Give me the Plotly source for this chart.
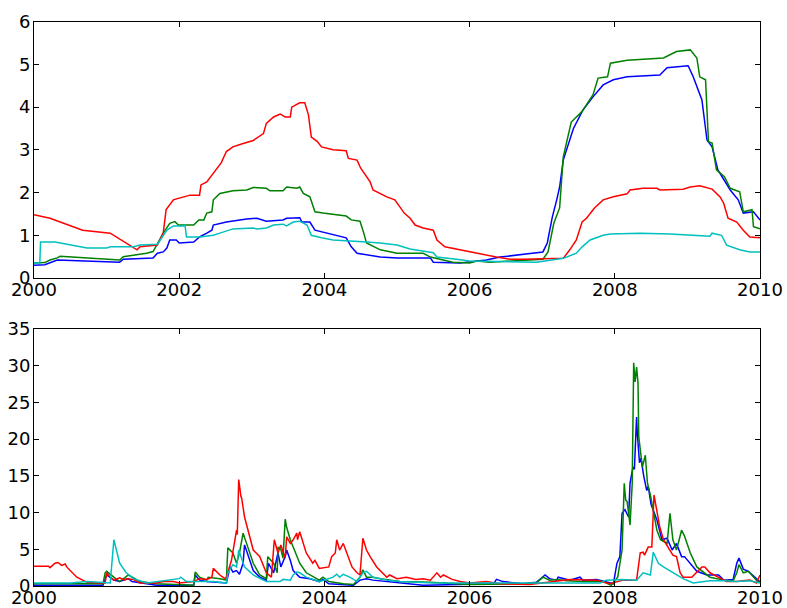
import plotly.graph_objects as go

# ---------------- top panel data (decimal years, values) ----------------
top_blue_t = [2000.0, 2000.15, 2000.32, 2000.67, 2001.18, 2001.23, 2001.64, 2001.7, 2001.78, 2001.83, 2001.87, 2001.96,
              2002.0, 2002.2, 2002.28, 2002.38, 2002.45, 2002.47, 2002.65, 2002.93, 2003.07, 2003.2, 2003.43, 2003.48,
              2003.66, 2003.69, 2003.8, 2003.87, 2003.96, 2004.3, 2004.37, 2004.45, 2004.77, 2005.0, 2005.46, 2005.5,
              2005.87, 2006.0, 2006.23, 2006.42, 2006.74, 2007.01, 2007.07, 2007.14, 2007.2, 2007.24, 2007.29, 2007.43,
              2007.56, 2007.7, 2007.84, 2007.98, 2008.17, 2008.44, 2008.62, 2008.72, 2008.85, 2009.01, 2009.08, 2009.2,
              2009.27, 2009.34, 2009.42, 2009.59, 2009.7, 2009.77, 2009.91, 2009.96, 2010.0]
top_blue_v = [0.30, 0.31, 0.42, 0.40, 0.37, 0.44, 0.47, 0.58, 0.61, 0.70, 0.89, 0.89,
              0.82, 0.84, 0.96, 1.05, 1.12, 1.24, 1.31, 1.38, 1.40, 1.33, 1.36, 1.40,
              1.41, 1.31, 1.31, 1.12, 1.08, 0.94, 0.73, 0.58, 0.49, 0.47, 0.47, 0.37,
              0.35, 0.38, 0.42, 0.49, 0.56, 0.61, 0.82, 1.43, 1.83, 2.13, 2.76, 3.50,
              3.93, 4.24, 4.52, 4.64, 4.71, 4.73, 4.75, 4.92, 4.94, 4.97, 4.71, 4.17,
              3.23, 3.07, 2.53, 2.06, 1.83, 1.52, 1.55, 1.43, 1.36]

top_green_t = [2000.0, 2000.15, 2000.22, 2000.32, 2000.36, 2000.68, 2001.05, 2001.18, 2001.23, 2001.42, 2001.55, 2001.64,
               2001.7, 2001.78, 2001.87, 2001.94, 2001.99, 2002.2, 2002.27, 2002.34, 2002.38, 2002.45, 2002.47, 2002.56,
               2002.74, 2002.93, 2003.02, 2003.2, 2003.25, 2003.43, 2003.48, 2003.62, 2003.66, 2003.71, 2003.8, 2003.87,
               2003.98, 2004.3, 2004.37, 2004.49, 2004.53, 2004.58, 2004.77, 2005.0, 2005.36, 2005.46, 2005.77, 2006.0,
               2006.1, 2006.28, 2007.01, 2007.08, 2007.16, 2007.24, 2007.29, 2007.4, 2007.55, 2007.7, 2007.77, 2007.9,
               2007.94, 2008.17, 2008.67, 2008.85, 2009.04, 2009.13, 2009.17, 2009.25, 2009.29, 2009.34, 2009.4, 2009.51,
               2009.59, 2009.72, 2009.77, 2009.89, 2009.91, 2010.0]
top_green_v = [0.35, 0.36, 0.42, 0.47, 0.51, 0.47, 0.42, 0.42, 0.50, 0.54, 0.58, 0.62,
               0.82, 1.05, 1.28, 1.32, 1.24, 1.24, 1.36, 1.36, 1.52, 1.55, 1.83, 1.98,
               2.04, 2.06, 2.12, 2.10, 2.04, 2.04, 2.13, 2.10, 2.13, 1.98, 1.90, 1.55,
               1.52, 1.45, 1.36, 1.33, 1.12, 0.82, 0.66, 0.58, 0.58, 0.49, 0.37, 0.35,
               0.40, 0.37, 0.44, 0.61, 1.28, 1.64, 2.83, 3.65, 3.90, 4.29, 4.68, 4.71,
               5.03, 5.10, 5.15, 5.30, 5.34, 5.15, 4.71, 4.64, 3.19, 3.16, 2.53, 2.37,
               2.10, 2.02, 1.55, 1.60, 1.20, 1.15]

top_red_t = [2000.0, 2000.22, 2000.67, 2001.05, 2001.42, 2001.46, 2001.7, 2001.78, 2001.82, 2001.92, 2002.0, 2002.15,
             2002.28, 2002.3, 2002.38, 2002.47, 2002.58, 2002.65, 2002.74, 2002.88, 2003.02, 2003.16, 2003.2, 2003.3,
             2003.39, 2003.46, 2003.53, 2003.55, 2003.66, 2003.73, 2003.78, 2003.82, 2003.9, 2003.96, 2004.12, 2004.3,
             2004.33, 2004.45, 2004.5, 2004.63, 2004.67, 2004.86, 2004.97, 2005.1, 2005.18, 2005.25, 2005.36, 2005.5,
             2005.55, 2005.66, 2005.87, 2006.0, 2006.18, 2006.37, 2006.56, 2006.74, 2007.29, 2007.38, 2007.47, 2007.55,
             2007.61, 2007.72, 2007.84, 2007.98, 2008.17, 2008.21, 2008.39, 2008.58, 2008.62, 2008.94, 2009.04, 2009.17,
             2009.34, 2009.45, 2009.5, 2009.56, 2009.68, 2009.77, 2009.86, 2010.0]
top_red_v = [1.48, 1.40, 1.12, 1.05, 0.66, 0.73, 0.77, 1.05, 1.60, 1.83, 1.87, 1.94,
             1.94, 2.18, 2.25, 2.45, 2.70, 2.96, 3.07, 3.15, 3.22, 3.38, 3.62, 3.77,
             3.84, 3.77, 3.77, 4.00, 4.10, 4.10, 3.82, 3.30, 3.20, 3.07, 3.00, 2.98,
             2.80, 2.76, 2.57, 2.25, 2.06, 1.90, 1.83, 1.52, 1.40, 1.24, 1.17, 1.12,
             0.89, 0.73, 0.66, 0.61, 0.54, 0.49, 0.44, 0.44, 0.46, 0.66, 0.89, 1.31,
             1.40, 1.64, 1.83, 1.90, 1.97, 2.06, 2.10, 2.10, 2.06, 2.08, 2.13, 2.16,
             2.08, 1.90, 1.75, 1.40, 1.31, 1.12, 0.96, 0.94]

top_cyan_t = [2000.0, 2000.08, 2000.09, 2000.29, 2000.73, 2001.0, 2001.05, 2001.37, 2001.46, 2001.7, 2001.74, 2001.83,
              2001.92, 2002.06, 2002.08, 2002.1, 2002.28, 2002.47, 2002.56, 2002.74, 2003.02, 2003.07, 2003.2, 2003.3,
              2003.43, 2003.48, 2003.57, 2003.66, 2003.76, 2003.82, 2003.96, 2004.12, 2004.58, 2004.77, 2005.0, 2005.18,
              2005.5, 2005.55, 2005.82, 2006.0, 2006.92, 2007.29, 2007.47, 2007.55, 2007.66, 2007.84, 2007.94, 2008.35,
              2008.76, 2009.31, 2009.34, 2009.47, 2009.54, 2009.72, 2009.86, 2010.0]
top_cyan_v = [0.35, 0.35, 0.84, 0.84, 0.70, 0.70, 0.73, 0.73, 0.77, 0.79, 0.89, 1.12,
              1.22, 1.22, 1.24, 0.96, 0.96, 1.00, 1.05, 1.15, 1.17, 1.15, 1.17, 1.24,
              1.26, 1.22, 1.31, 1.33, 1.24, 1.00, 0.94, 0.89, 0.84, 0.82, 0.77, 0.68,
              0.59, 0.49, 0.44, 0.40, 0.37, 0.46, 0.58, 0.73, 0.89, 1.00, 1.03, 1.05,
              1.03, 0.98, 1.05, 1.00, 0.77, 0.66, 0.61, 0.61]

# ---------------- bottom panel data ----------------
bot_blue_t = [2000.0, 2000.95, 2001.0, 2001.1, 2001.18, 2001.3, 2001.35, 2001.69, 2002.2, 2002.22, 2002.28, 2002.38,
              2002.65, 2002.7, 2002.74, 2002.79, 2002.83, 2002.88, 2002.9, 2002.95, 2003.02, 2003.11, 2003.2, 2003.23,
              2003.3, 2003.36, 2003.4, 2003.46, 2003.48, 2003.53, 2003.57, 2003.66, 2003.8, 2003.93, 2003.98, 2004.06,
              2004.4, 2004.49, 2004.58, 2004.67, 2005.0, 2005.36, 2006.33, 2006.37, 2006.46, 2006.74, 2006.92, 2007.04,
              2007.1, 2007.2, 2007.22, 2007.38, 2007.52, 2007.56, 2007.75, 2007.98, 2008.03, 2008.07, 2008.1, 2008.14,
              2008.19, 2008.21, 2008.25, 2008.27, 2008.3, 2008.31, 2008.34, 2008.36, 2008.4, 2008.44, 2008.46, 2008.5,
              2008.58, 2008.65, 2008.72, 2008.79, 2008.85, 2008.92, 2008.96, 2009.04, 2009.13, 2009.27, 2009.43, 2009.5,
              2009.63, 2009.68, 2009.71, 2009.77, 2009.84, 2009.95, 2010.0]
bot_blue_v = [0.1, 0.1, 1.5, 0.8, 0.6, 1.0, 0.6, 0.1, 0.1, 1.5, 0.8, 0.6,
              0.4, 2.6, 1.9, 2.1, 1.6, 3.1, 5.6, 4.0, 2.1, 1.2, 0.8, 3.1,
              1.8, 4.5, 2.6, 4.0, 4.9, 3.5, 2.1, 1.2, 1.0, 0.6, 0.9, 0.3,
              0.1, 0.8, 1.0, 0.8, 0.5, 0.1, 0.3, 0.9, 0.6, 0.3, 0.5, 1.5,
              1.0, 0.8, 1.2, 0.8, 1.2, 0.8, 0.9, 0.3, 3.1, 4.0, 9.9, 10.4,
              9.4, 14.0, 16.2, 15.9, 23.0, 20.8, 16.8, 17.4, 14.9, 13.0, 13.6, 11.1,
              9.0, 6.3, 6.5, 4.9, 5.8, 4.0, 4.0, 3.1, 2.0, 1.5, 1.5, 0.8,
              0.9, 3.1, 3.8, 2.3, 2.0, 1.0, 0.6]

bot_green_t = [2000.0, 2000.95, 2000.98, 2001.0, 2001.1, 2001.18, 2001.3, 2001.35, 2001.46, 2001.69, 2002.2, 2002.22,
               2002.28, 2002.38, 2002.4, 2002.56, 2002.65, 2002.67, 2002.74, 2002.79, 2002.83, 2002.88, 2002.93, 2003.02,
               2003.11, 2003.2, 2003.22, 2003.3, 2003.35, 2003.36, 2003.4, 2003.43, 2003.46, 2003.48, 2003.53, 2003.57,
               2003.66, 2003.75, 2003.93, 2003.98, 2004.06, 2004.26, 2004.4, 2004.49, 2004.53, 2004.58, 2004.67, 2004.77,
               2005.04, 2005.46, 2006.0, 2006.74, 2006.92, 2007.01, 2007.1, 2007.2, 2007.34, 2007.56, 2007.84, 2007.95,
               2008.04, 2008.1, 2008.13, 2008.15, 2008.17, 2008.21, 2008.24, 2008.26, 2008.28, 2008.3, 2008.32, 2008.33,
               2008.35, 2008.38, 2008.42, 2008.45, 2008.49, 2008.53, 2008.58, 2008.63, 2008.72, 2008.76, 2008.8, 2008.85,
               2008.92, 2008.96, 2009.04, 2009.13, 2009.31, 2009.5, 2009.63, 2009.68, 2009.71, 2009.77, 2009.84, 2009.95,
               2010.0]
bot_green_v = [0.3, 0.3, 1.8, 2.0, 1.2, 0.6, 1.5, 1.2, 0.6, 0.3, 0.1, 1.9,
               1.2, 0.8, 1.2, 1.0, 0.8, 5.2, 4.5, 3.1, 4.5, 7.2, 5.8, 3.1,
               1.5, 1.0, 4.0, 3.1, 1.8, 5.3, 5.0, 3.8, 9.1, 8.0, 6.3, 5.3,
               3.1, 1.8, 0.8, 1.2, 0.6, 0.3, 0.2, 1.2, 2.2, 1.2, 1.2, 1.0,
               0.6, 0.5, 0.2, 0.3, 0.4, 1.2, 0.8, 0.9, 0.7, 0.6, 0.6, 0.1,
               1.2, 4.9, 14.0, 11.7, 11.5, 8.3, 14.0, 30.4, 27.8, 29.8, 27.6, 20.3,
               18.5, 16.2, 17.8, 14.0, 12.4, 10.4, 7.6, 6.3, 5.8, 9.9, 6.3, 4.9,
               7.6, 6.8, 4.5, 2.6, 1.2, 0.8, 0.7, 1.8, 2.9, 1.8, 2.0, 0.8,
               0.5]

bot_red_t = [2000.0, 2000.2, 2000.22, 2000.29, 2000.33, 2000.38, 2000.43, 2000.45, 2000.59, 2000.73, 2000.91, 2000.98,
             2001.0, 2001.05, 2001.1, 2001.18, 2001.25, 2001.27, 2001.37, 2001.46, 2001.69, 2001.78, 2001.92, 2002.0,
             2002.2, 2002.28, 2002.38, 2002.45, 2002.47, 2002.56, 2002.63, 2002.65, 2002.72, 2002.76, 2002.79, 2002.8,
             2002.82, 2002.85, 2002.86, 2002.9, 2002.95, 2003.02, 2003.11, 2003.2, 2003.27, 2003.31, 2003.36, 2003.4,
             2003.46, 2003.48, 2003.53, 2003.57, 2003.62, 2003.63, 2003.66, 2003.71, 2003.75, 2003.84, 2003.87, 2003.93,
             2004.03, 2004.06, 2004.1, 2004.15, 2004.17, 2004.21, 2004.26, 2004.33, 2004.38, 2004.45, 2004.49, 2004.53,
             2004.58, 2004.63, 2004.72, 2004.86, 2004.9, 2005.0, 2005.13, 2005.26, 2005.36, 2005.46, 2005.55, 2005.6,
             2005.64, 2005.76, 2005.87, 2006.0, 2006.23, 2006.42, 2006.83, 2007.38, 2007.56, 2007.75, 2007.93, 2008.11,
             2008.3, 2008.35, 2008.39, 2008.41, 2008.46, 2008.51, 2008.54, 2008.58, 2008.62, 2008.67, 2008.76, 2008.8,
             2008.85, 2008.9, 2008.94, 2009.06, 2009.2, 2009.24, 2009.31, 2009.45, 2009.54, 2009.68, 2009.86, 2009.95,
             2010.0]
bot_red_v = [2.7, 2.7, 2.5, 3.1, 3.2, 2.8, 3.0, 2.6, 1.2, 0.5, 0.4, 0.4,
             1.8, 1.2, 0.8, 1.1, 0.8, 1.0, 0.9, 0.4, 0.4, 0.6, 0.6, 0.4,
             0.6, 1.0, 0.9, 1.2, 2.4, 1.5, 1.0, 1.2, 3.5, 5.8, 7.6, 7.0,
             14.5, 12.2, 12.0, 9.4, 7.6, 4.9, 4.0, 1.8, 1.2, 6.3, 4.5, 5.6,
             3.8, 6.7, 5.8, 6.3, 7.2, 6.3, 7.4, 5.8, 4.5, 3.1, 3.5, 2.4,
             2.6, 2.6, 4.0, 4.5, 6.3, 4.9, 5.8, 4.0, 2.6, 1.8, 1.5, 6.5,
             4.9, 4.0, 2.6, 1.2, 1.5, 1.0, 1.2, 0.9, 1.0, 0.8, 1.8, 1.2,
             1.5, 0.9, 0.6, 0.4, 0.6, 0.3, 0.2, 0.9, 0.9, 0.8, 0.3, 0.8,
             0.8, 4.5, 4.6, 4.2, 5.3, 5.3, 12.4, 10.4, 8.0, 6.3, 4.9, 4.2,
             4.0, 1.8, 1.2, 1.2, 2.6, 2.6, 1.8, 1.1, 0.6, 0.6, 0.8, 0.4,
             1.5]

bot_cyan_t = [2000.0, 2000.5, 2000.73, 2001.05, 2001.1, 2001.15, 2001.18, 2001.27, 2001.37, 2001.55, 2002.0, 2002.02,
              2002.1, 2002.47, 2002.65, 2002.67, 2002.74, 2002.79, 2002.82, 2002.85, 2002.9, 2003.02, 2003.11, 2003.2,
              2003.39, 2003.43, 2003.53, 2003.57, 2003.62, 2003.66, 2003.75, 2003.93, 2004.12, 2004.17, 2004.21, 2004.26,
              2004.35, 2004.45, 2004.53, 2004.58, 2004.67, 2004.86, 2005.04, 2005.5, 2007.8, 2007.88, 2008.1, 2008.3,
              2008.39, 2008.49, 2008.53, 2008.55, 2008.6, 2008.67, 2008.8, 2008.94, 2009.08, 2009.31, 2009.5, 2009.68,
              2009.86, 2010.0]
bot_cyan_v = [0.4, 0.4, 0.6, 0.4, 6.3, 4.5, 3.1, 1.8, 1.0, 0.4, 1.0, 1.2,
              0.6, 0.6, 0.4, 1.8, 2.9, 2.6, 4.9, 4.0, 2.6, 1.5, 1.0, 0.6,
              0.6, 0.9, 0.8, 1.5, 1.9, 1.8, 1.2, 0.6, 1.2, 1.6, 1.2, 1.6,
              1.2, 0.6, 1.8, 2.0, 1.2, 0.8, 0.6, 0.4, 0.4, 0.8, 0.9, 0.8,
              1.8, 1.5, 4.6, 4.2, 3.1, 2.6, 1.8, 1.0, 0.4, 0.7, 0.7, 0.6,
              0.7, 0.4]

x_ticks = [2000, 2002, 2004, 2006, 2008, 2010]
x_tick_labels = ["2000", "2002", "2004", "2006", "2008", "2010"]

COL = {"b": "#0000ff", "g": "#008000", "r": "#ff0000", "c": "#00bfbf"}

fig = go.Figure()

def add(t, v, col, ax):
    fig.add_trace(go.Scatter(x=t, y=v, mode="lines", line=dict(color=col, width=1.5),
                             xaxis="x" + ax, yaxis="y" + ax, showlegend=False, hoverinfo="skip"))

add(top_blue_t, top_blue_v, COL["b"], "")
add(top_green_t, top_green_v, COL["g"], "")
add(top_red_t, top_red_v, COL["r"], "")
add(top_cyan_t, top_cyan_v, COL["c"], "")
add(bot_blue_t, bot_blue_v, COL["b"], "2")
add(bot_green_t, bot_green_v, COL["g"], "2")
add(bot_red_t, bot_red_v, COL["r"], "2")
add(bot_cyan_t, bot_cyan_v, COL["c"], "2")

W, H = 787, 608
xd = [34 / W, 760 / W]
font = dict(family="DejaVu Sans", size=18, color="black")

axis_common = dict(showline=True, linecolor="black", linewidth=1, mirror="ticks", ticks="inside",
                   ticklen=5, tickcolor="black", tickwidth=1, showgrid=False, zeroline=False,
                   tickfont=font, automargin=False)

fig.update_layout(
    width=W, height=H, margin=dict(l=0, r=0, t=0, b=0),
    paper_bgcolor="white", plot_bgcolor="white",
    xaxis=dict(domain=xd, range=[2000, 2010], tickvals=x_ticks, ticktext=x_tick_labels, anchor="y",
               ticklabelstandoff=-5, **axis_common),
    yaxis=dict(domain=[(H - 278) / H, (H - 21.7) / H], range=[0, 6], dtick=1, anchor="x",
               ticklabelstandoff=-1, **axis_common),
    xaxis2=dict(domain=xd, range=[2000, 2010], tickvals=x_ticks, ticktext=x_tick_labels, anchor="y2",
                ticklabelstandoff=-5, **axis_common),
    yaxis2=dict(domain=[(H - 586) / H, (H - 329) / H], range=[0, 35], dtick=5, anchor="x2",
                ticklabelstandoff=-1, **axis_common),
)

fig.write_html("out.html")
